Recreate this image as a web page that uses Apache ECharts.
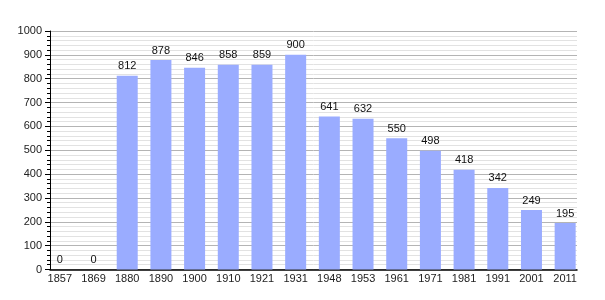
<!DOCTYPE html>
<html><head><meta charset="utf-8">
<script src="https://cdn.jsdelivr.net/npm/echarts@6/dist/echarts.min.js"></script>
<style>html,body{margin:0;padding:0;background:#fff}#c{width:605px;height:300px}</style>
</head><body><div id="c"></div>
<script>
const years = ['1857','1869','1880','1890','1900','1910','1921','1931','1948','1953','1961','1971','1981','1991','2001','2011'];
const population = [0,0,812,878,846,858,859,900,641,632,550,498,418,342,249,195];
const yMin = 0, yMax = 1000, yStep = 100;

const chart = echarts.init(document.getElementById('c'), null, {renderer:'canvas'});
const font = 'Liberation Sans, Arial, sans-serif';
chart.setOption({
  animation: false,
  grid: [
    {left: 50, right: 28, top: 31, bottom: 30.5},
    {left: 43, right: 23, top: 31, bottom: 30.5}
  ],
  xAxis: [
    {type: 'category', gridIndex: 0, data: years, axisLine: {show: true, lineStyle: {color: '#000', width: 1.5}},
     axisTick: {show: false}, axisLabel: {show: false}, splitLine: {show: false}},
    {type: 'category', gridIndex: 1, data: years, axisLine: {show: false}, axisTick: {show: false},
     axisLabel: {color: '#222', fontFamily: font, fontSize: 11, margin: 4}}
  ],
  yAxis: [
    {type: 'value', gridIndex: 0, min: yMin, max: yMax, interval: yStep,
     axisLine: {show: true, lineStyle: {color: '#000'}},
     axisTick: {show: true, length: 5, lineStyle: {color: '#000'}},
     minorTick: {show: true, splitNumber: 5, length: 3, lineStyle: {color: '#000'}},
     axisLabel: {color: '#222', fontFamily: font, fontSize: 11, margin: 8, formatter: v => String(v)},
     splitLine: {show: true, lineStyle: {color: '#b4b4b4'}},
     minorSplitLine: {show: true, lineStyle: {color: '#e2e2e2'}}},
    {type: 'value', gridIndex: 1, min: yMin, max: yMax, interval: yStep, show: false,
     splitLine: {show: false}}
  ],
  series: [{
    type: 'bar', xAxisIndex: 1, yAxisIndex: 1, data: population, barWidth: 21,
    itemStyle: {color: '#9aacff'},
    label: {show: true, position: 'top', color: '#111', fontFamily: font, fontSize: 11, distance: 4}
  }]
});
</script></body></html>
